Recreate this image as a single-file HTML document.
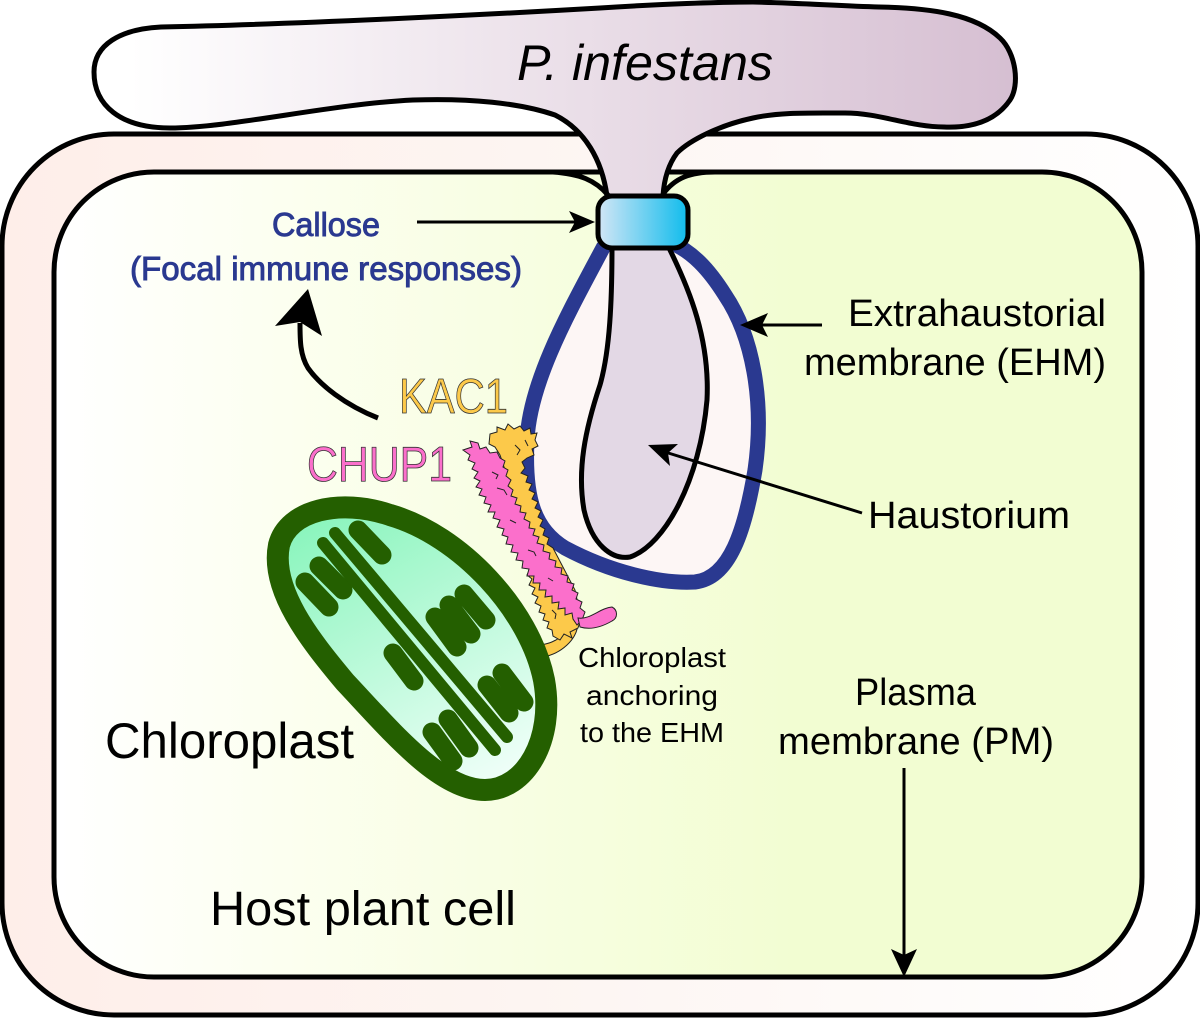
<!DOCTYPE html>
<html><head><meta charset="utf-8"><style>
html,body{margin:0;padding:0;background:#fff;width:1200px;height:1018px;overflow:hidden}
svg{display:block}
text{font-family:"Liberation Sans",sans-serif;fill:#000}
</style></head><body>
<svg width="1200" height="1018" viewBox="0 0 1200 1018" xmlns="http://www.w3.org/2000/svg">
<defs>
<linearGradient id="og" x1="0" x2="1" y1="0" y2="0"><stop offset="0" stop-color="#feeee9"/><stop offset=".5" stop-color="#fdf6f3"/><stop offset="1" stop-color="#ffffff"/></linearGradient>
<linearGradient id="ig" gradientUnits="userSpaceOnUse" x1="60" x2="800" y1="0" y2="0"><stop offset="0" stop-color="#ffffff"/><stop offset=".3" stop-color="#fcfff0"/><stop offset="1" stop-color="#f2fdd2"/></linearGradient>
<linearGradient id="hg" gradientUnits="userSpaceOnUse" x1="130" x2="1010" y1="0" y2="0"><stop offset="0" stop-color="#ffffff"/><stop offset="1" stop-color="#d6bfd2"/></linearGradient>
<linearGradient id="cg" x1="0" x2="1" y1="0" y2="0"><stop offset="0" stop-color="#d3e6f6"/><stop offset="1" stop-color="#10bcec"/></linearGradient>
<linearGradient id="chg" gradientUnits="userSpaceOnUse" x1="340" y1="510" x2="500" y2="790"><stop offset="0" stop-color="#8cf5be"/><stop offset="1" stop-color="#f2fffa"/></linearGradient>
</defs>

<rect x="2" y="134" width="1196" height="881" rx="112" ry="112" fill="url(#og)" stroke="#000" stroke-width="5"/>
<rect x="54" y="172" width="1088" height="805" rx="100" ry="100" fill="url(#ig)" stroke="#000" stroke-width="5"/>

<path d="M607,196 C602,160 585,130 555,115 C520,103 470,98 413,100 C330,104 230,128 170,128 C120,128 94,105 94,72 C94,45 120,29 161,27 C300,24 480,15 600,8 C660,4 720,2 753,2 C800,3 840,6 879,7 C930,8 975,14 1000,38 C1016,53 1020,85 1010,100 C995,122 970,128 944,127 C910,127 880,113 845,113 C810,113 780,112 753,118 C720,125 690,140 677,153 C668,165 664,180 663,196 Z" fill="url(#hg)" stroke="#000" stroke-width="5" stroke-linejoin="round"/>
<path d="M553,172 C580,174 595,180 608,195" fill="none" stroke="#000" stroke-width="5"/>
<path d="M663,194 C675,178 690,172 715,172" fill="none" stroke="#000" stroke-width="5"/>

<path d="M604,246 C570,310 530,380 527,440 C524,500 535,530 565,548 C610,572 660,584 695,582 C730,578 745,530 755,470 C765,400 752,335 725,295 C708,268 692,252 672,243 Z" fill="#fdf6f5"/>
<path d="M604,246 C570,310 530,380 527,440 C524,500 535,530 565,548 C610,572 660,584 695,582 C730,578 745,530 755,470 C765,400 752,335 725,295 C708,268 692,252 672,243" fill="none" stroke="#2a3990" stroke-width="15"/>
<path d="M612,246 C612,300 610,350 600,385 C585,430 577,470 584,510 C592,545 612,560 630,557 C665,545 700,480 707,400 C710,340 690,290 668,246 Z" fill="#e3d8e5" stroke="#000" stroke-width="5"/>
<rect x="598" y="196" width="90" height="52" rx="14" ry="14" fill="url(#cg)" stroke="#000" stroke-width="5"/>

<path d="M540,645 C548,644 552,642 556,640 L562,636 L578,622 C578,640 560,654 543,657 Z" fill="#fcc94a" stroke="#222" stroke-width="1"/>
<path d="M490,434 497,432 497,427 505,430 508,424 514,429 520,426 524,431 530,428 531,434 537,433 535,440 538,446 532,449 534,455 527,458 522,462 525,468 521,473 528,476 526,482 532,484 529,490 535,493 532,499 538,502 535,508 541,511 538,517 543,520 540,526 545,529 543,535 549,538 547,544 553,548 575,590 581,618 578,628 570,632 572,638 564,634 560,640 553,636 552,630 547,628 549,622 543,620 545,614 539,612 541,606 535,603 538,597 532,594 535,588 529,585 532,579 527,575 530,569 515,530 505,500 505,470 500,455 495,447 489,444 Z" fill="#fcc94a" stroke="#222" stroke-width="1"/>
<path d="M463,450 472,447 470,441 478,443 480,449 486,447 490,453 497,452 500,458 505,461 503,467 508,470 506,476 511,480 508,486 513,490 511,496 517,498 515,504 521,506 520,512 526,513 524,519 530,522 529,528 535,529 533,535 539,537 537,543 544,545 543,551 550,553 549,559 556,561 555,567 562,568 561,574 568,576 567,582 574,584 572,590 578,593 576,599 582,602 580,608 585,612 582,620 577,625 573,619 572,613 565,615 565,608 558,609 559,602 552,603 552,596 545,597 546,590 539,590 540,583 533,583 534,576 527,576 529,569 522,568 523,561 516,560 518,553 511,552 513,545 506,544 508,537 502,535 504,529 497,527 500,520 493,518 495,512 488,512 491,505 484,503 486,497 479,495 482,489 476,487 480,481 474,478 478,472 472,469 475,463 468,460 470,455 Z" fill="#fb6fcb" stroke="#222" stroke-width="1"/>
<path d="M578,618 C590,620 600,608 612,607 C618,610 618,618 612,621 C600,628 590,630 580,627 Z" fill="#fb6fcb" stroke="#222" stroke-width="1"/>
<path d="M492,472l6,3l-2,4M497,488l7,2l3,5M515,445l5,5l-3,5M525,440l3,6M510,520l6,3M528,550l6,2l2,4M548,578l5,3M552,610l4,4l-1,5" fill="none" stroke="#222" stroke-width="1"/>

<path d="M279,545 C288,510 340,498 390,515 C460,535 530,610 544,680 C555,740 525,790 485,790 C440,790 392,732 345,682 C310,640 270,590 279,545 Z" fill="url(#chg)" stroke="#245f00" stroke-width="22"/>
<g stroke="#245f00" stroke-linecap="round" fill="none">
<path stroke-width="19" d="M358,530L382,555M319,566L343,590M305,582L329,607M464,594L486,620M449,605L471,634M435,617L457,647M393,653L414,681M502,673L524,702M487,685L509,713M448,719L469,748M432,732L453,761"/>
<path d="M335,533L507,737M323,543L495,750" stroke-width="12"/>
</g>

<text x="517" y="80" font-size="50" font-style="italic" textLength="256" lengthAdjust="spacingAndGlyphs">P. infestans</text>
<text x="272" y="236" font-size="33" style="fill:#2a3990" stroke="#2a3990" stroke-width=".9" textLength="108" lengthAdjust="spacingAndGlyphs">Callose</text>
<text x="130" y="280" font-size="33" style="fill:#2a3990" stroke="#2a3990" stroke-width=".9" textLength="392" lengthAdjust="spacingAndGlyphs">(Focal immune responses)</text>
<text x="848" y="326" font-size="38" textLength="258" lengthAdjust="spacingAndGlyphs">Extrahaustorial</text>
<text x="804" y="375" font-size="38" textLength="302" lengthAdjust="spacingAndGlyphs">membrane (EHM)</text>
<text x="868" y="528" font-size="38" textLength="202" lengthAdjust="spacingAndGlyphs">Haustorium</text>
<text x="399" y="413" font-size="49" style="fill:#fcc94a" stroke="#333" stroke-width=".8" textLength="109" lengthAdjust="spacingAndGlyphs">KAC1</text>
<text x="307" y="481" font-size="49" style="fill:#fb6fcb" stroke="#333" stroke-width=".8" textLength="145" lengthAdjust="spacingAndGlyphs">CHUP1</text>
<text x="105" y="758" font-size="50" textLength="249" lengthAdjust="spacingAndGlyphs">Chloroplast</text>
<text x="578" y="667" font-size="28" textLength="148" lengthAdjust="spacingAndGlyphs">Chloroplast</text>
<text x="586" y="705" font-size="28" textLength="132" lengthAdjust="spacingAndGlyphs">anchoring</text>
<text x="580" y="742" font-size="28" textLength="144" lengthAdjust="spacingAndGlyphs">to the EHM</text>
<text x="855" y="705" font-size="38" textLength="121" lengthAdjust="spacingAndGlyphs">Plasma</text>
<text x="778" y="754" font-size="38" textLength="276" lengthAdjust="spacingAndGlyphs">membrane (PM)</text>
<text x="210" y="925" font-size="48" textLength="306" lengthAdjust="spacingAndGlyphs">Host plant cell</text>

<g stroke="#000" fill="none" stroke-width="3">
<path d="M417,222H578"/>
<path d="M822,325H760"/>
<path d="M862,513L665,452"/>
<path d="M904,768V955"/>
</g>
<path d="M595,222L569,211L575,222L569,233Z"/>
<path d="M740,325L768,313L762,325L768,337Z"/>
<path d="M648,445L678,444L668,453L670,466Z"/>
<path d="M904,977L891,949L904,955L917,949Z"/>
<path d="M378,418C345,405 320,385 308,368C300,355 300,340 300,323" fill="none" stroke="#000" stroke-width="5"/>
<path d="M308,289L275,326L300,322L322,336Z"/>
</svg>
</body></html>
